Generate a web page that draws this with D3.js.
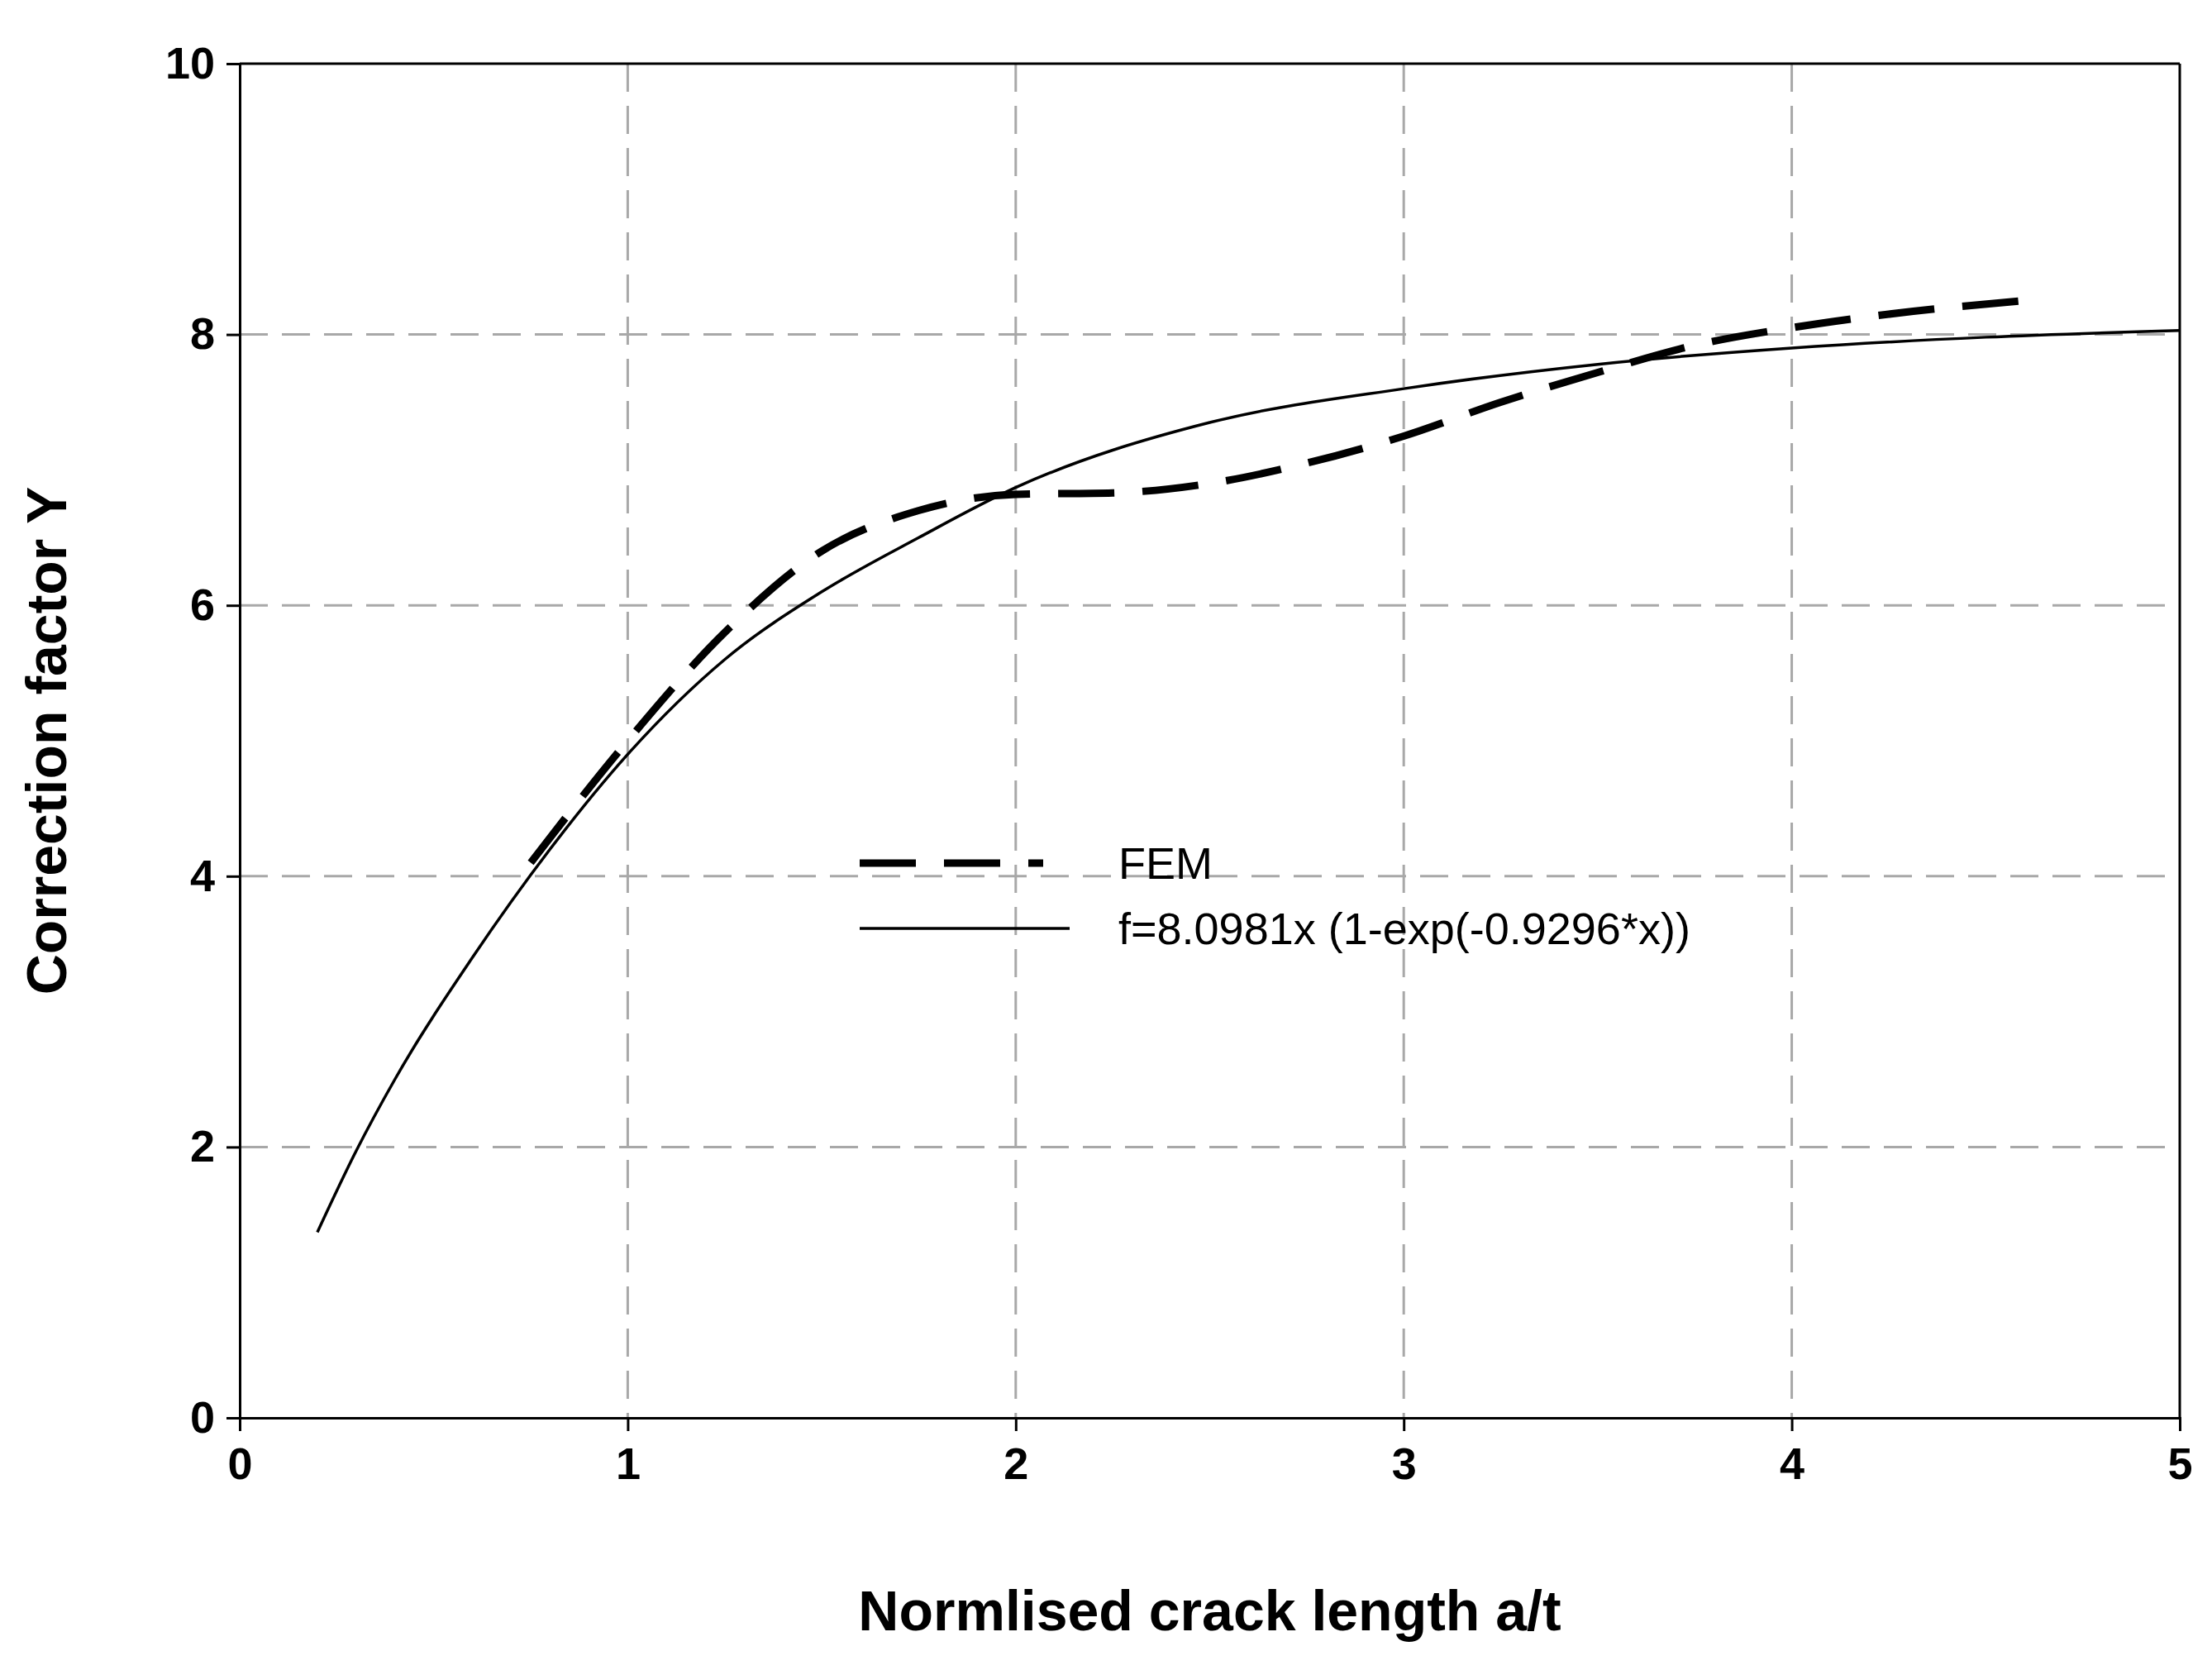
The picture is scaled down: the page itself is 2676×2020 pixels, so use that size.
<!DOCTYPE html>
<html>
<head>
<meta charset="utf-8">
<script src="https://cdn.jsdelivr.net/npm/d3@7"></script>
<style>
  body { margin: 0; background: #fff; }
  text { font-family: Arial, "Liberation Sans", sans-serif; }
</style>
</head>
<body>
<div class="canvas"></div>
<script>
// Data
const xTicks = [0, 1, 2, 3, 4, 5];
const yTicks = [0, 2, 4, 6, 8, 10];

const femX = [0.75, 1.0, 1.25, 1.5, 1.75, 2.0, 2.25, 2.5, 2.75, 3.0, 3.25, 3.5, 3.75, 4.0, 4.25, 4.6];
const femY = [4.1, 5.0, 5.8, 6.4, 6.7, 6.82, 6.83, 6.9, 7.05, 7.25, 7.5, 7.72, 7.92, 8.05, 8.15, 8.25];

const fitX = [0.2, 0.3, 0.4, 0.6, 0.8, 1.0, 1.25, 1.5, 1.75, 2.0, 2.5, 3.0, 3.5, 4.0, 4.5, 5.0];
const fitY = [1.37, 1.97, 2.5, 3.4, 4.2, 4.9, 5.6, 6.1, 6.5, 6.87, 7.35, 7.6, 7.78, 7.9, 7.98, 8.03];

const legendLabels = ['FEM', 'f=8.0981x (1-exp(-0.9296*x))'];

const W = 2676, H = 2020;
const plot = { left: 290, right: 2637, top: 77, bottom: 1715 };

const svg = d3.select('.canvas').append('svg')
  .attr('width', W).attr('height', H);

const x = d3.scaleLinear().domain([0, 5]).range([plot.left, plot.right]);
const y = d3.scaleLinear().domain([0, 10]).range([plot.bottom, plot.top]);

// grid
const grid = svg.append('g')
  .attr('stroke', '#a8a8a8').attr('stroke-width', 3).attr('stroke-dasharray', '34,17');
grid.selectAll('.gx').data(xTicks.slice(1, -1)).enter().append('line')
  .attr('x1', d => x(d)).attr('x2', d => x(d))
  .attr('y1', plot.top).attr('y2', plot.bottom);
grid.selectAll('.gy').data(yTicks.slice(1, -1)).enter().append('line')
  .attr('x1', plot.left).attr('x2', plot.right)
  .attr('y1', d => y(d)).attr('y2', d => y(d));

// axes
const xAxis = svg.append('g')
  .attr('transform', `translate(0, ${plot.bottom})`)
  .call(d3.axisBottom(x).tickValues(xTicks).tickSize(16).tickPadding(20).tickFormat(d3.format('d')));
const yAxis = svg.append('g')
  .attr('transform', `translate(${plot.left}, 0)`)
  .call(d3.axisLeft(y).tickValues(yTicks).tickSize(16).tickPadding(14).tickFormat(d3.format('d')));
[xAxis, yAxis].forEach(a => {
  a.select('.domain').attr('stroke', '#000').attr('stroke-width', 3);
  a.selectAll('.tick line').attr('stroke', '#000').attr('stroke-width', 3);
  a.selectAll('.tick text').attr('font-size', 54).attr('font-weight', 'bold').attr('fill', '#000')
    .style('font-family', 'Arial, "Liberation Sans", sans-serif');
});

// top and right frame
svg.append('line').attr('x1', plot.left).attr('x2', plot.right)
  .attr('y1', plot.top).attr('y2', plot.top).attr('stroke', '#000').attr('stroke-width', 3);
svg.append('line').attr('x1', plot.right).attr('x2', plot.right)
  .attr('y1', plot.top).attr('y2', plot.bottom).attr('stroke', '#000').attr('stroke-width', 3);

// lines
const line = d3.line().x(d => x(d[0])).y(d => y(d[1])).curve(d3.curveMonotoneX);

svg.append('path')
  .attr('d', line(d3.zip(fitX, fitY)))
  .attr('fill', 'none').attr('stroke', '#000').attr('stroke-width', 3.5);

svg.append('path')
  .attr('d', line(d3.zip(femX, femY)))
  .attr('fill', 'none').attr('stroke', '#000').attr('stroke-width', 9)
  .attr('stroke-dasharray', '68,34');

// legend
const leg = svg.append('g');
leg.append('line').attr('x1', 1040).attr('x2', 1262).attr('y1', 1044).attr('y2', 1044)
  .attr('stroke', '#000').attr('stroke-width', 9).attr('stroke-dasharray', '68,34');
leg.append('line').attr('x1', 1040).attr('x2', 1294).attr('y1', 1123).attr('y2', 1123)
  .attr('stroke', '#000').attr('stroke-width', 3.5);
leg.selectAll('text').data(legendLabels).enter().append('text')
  .attr('x', 1353).attr('y', (d, i) => 1044 + i * 79)
  .attr('dy', '0.35em').attr('font-size', 54).text(d => d);

// axis titles
svg.append('text')
  .attr('x', (plot.left + plot.right) / 2).attr('y', 1972)
  .attr('text-anchor', 'middle').attr('font-size', 68).attr('font-weight', 'bold')
  .text('Normlised crack length a/t');
svg.append('text')
  .attr('transform', `translate(80, ${(plot.top + plot.bottom) / 2}) rotate(-90)`)
  .attr('text-anchor', 'middle').attr('font-size', 68).attr('font-weight', 'bold')
  .text('Correction factor Y');
</script>
</body>
</html>
